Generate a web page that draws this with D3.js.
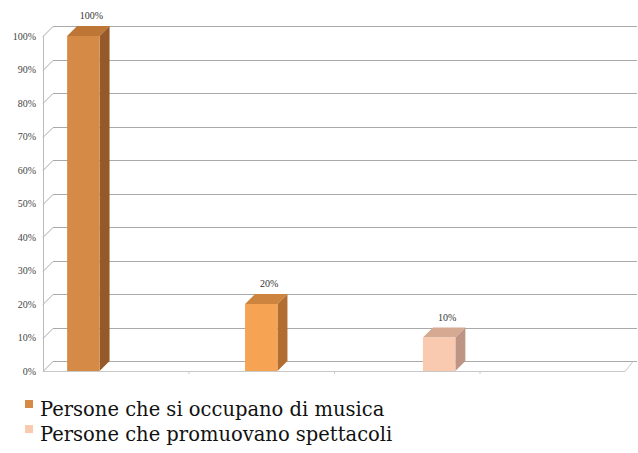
<!DOCTYPE html>
<html><head><meta charset="utf-8">
<script src="https://cdn.jsdelivr.net/npm/d3@7"></script>
<style>
body{margin:0;background:#fff}svg{display:block}
.lab{font-family:"Liberation Serif",serif;font-size:10px}
.leg{font-family:"DejaVu Serif",serif;font-size:19.5px}
</style>
</head><body>
<svg id="c" width="638" height="453"></svg>
<script>
const categories = ["A", "B", "C", "D"];
const seriesNames = ["Persone che si occupano di musica", "Serie 2", "Persone che promuovano spettacoli"];
const musicaValues = [100, null, null, null];
const serie2Values = [null, 20, null, null];
const spettacoliValues = [null, null, 10, null];
const legendNames = ["Persone che si occupano di musica", "Persone che promuovano spettacoli"];
const yTicks = [0, 10, 20, 30, 40, 50, 60, 70, 80, 90, 100];

const colors = [
  {front: "#D58B45", side: "#95592A", top: "#BE7637"},
  {front: "#F7A354", side: "#B26D30", top: "#CC843F"},
  {front: "#F9C9B0", side: "#BE9585", top: "#D6A993"}
];
const legendColors = ["#D58B45", "#F9C9B0"];
const seriesValues = [musicaValues, serie2Values, spettacoliValues];

const svg = d3.select("#c");
const dx = 10, dy = -10;
const x0 = 43, x1 = 625;
const y = d3.scaleLinear().domain([0, 100]).range([371, 36]);
const x = d3.scaleBand().domain(categories).range([x0, x1]).padding(0);
const xs = d3.scaleBand().domain(seriesNames).range([0, x.bandwidth()]).paddingInner(0).paddingOuter(0.745);

const grid = svg.append("g").attr("stroke", "#a9a9a9").attr("stroke-width", 1).attr("fill", "none");
yTicks.forEach(t => {
  const yy = Math.round(y(t)) + 0.5;
  grid.append("line").attr("x1", x0 + dx).attr("x2", x1 + dx + 2).attr("y1", yy + dy).attr("y2", yy + dy);
  grid.append("line").attr("x1", x0).attr("x2", x0 + dx).attr("y1", yy).attr("y2", yy + dy);
});
grid.append("line").attr("x1", x0 + 0.5).attr("x2", x0 + 0.5).attr("y1", y(100)).attr("y2", y(0) + 0.5).attr("stroke", "#bbb");
grid.append("line").attr("x1", x0).attr("x2", x1).attr("y1", Math.round(y(0)) + 0.5).attr("y2", Math.round(y(0)) + 0.5).attr("stroke", "#c8c8c8");
grid.append("line").attr("x1", x1).attr("x2", x1 + dx - 2).attr("y1", y(0) + 0.5).attr("y2", y(0) + dy + 0.5).attr("stroke", "#c8c8c8");
categories.slice(1).forEach(c => {
  grid.append("line").attr("x1", x(c) + 0.5).attr("x2", x(c) + 0.5).attr("y1", y(0)).attr("y2", y(0) + 3).attr("stroke", "#ccc");
});

const yAxis = d3.axisLeft(y).tickValues(yTicks).tickSize(0).tickPadding(7).tickFormat(d => d + "%");
const ga = svg.append("g").attr("transform", `translate(${x0},0)`).call(yAxis);
ga.select(".domain").remove();
ga.attr("font-family", null).attr("font-size", null);
ga.selectAll("text").attr("class", "lab").attr("fill", "#444");

const bars = [];
seriesValues.forEach((vals, si) => {
  vals.forEach((v, ci) => {
    if (v == null) return;
    bars.push({s: si, c: categories[ci], v});
  });
});
bars.forEach(b => {
  const bx = x(b.c) + xs(seriesNames[b.s]);
  const bw = xs.bandwidth();
  const yt = y(b.v), yb = y(0);
  const col = colors[b.s];
  const g = svg.append("g");
  g.append("path").attr("d", `M${bx + bw},${yt}L${bx + bw + dx},${yt + dy}L${bx + bw + dx},${yb + dy}L${bx + bw},${yb}Z`).attr("fill", col.side);
  g.append("path").attr("d", `M${bx},${yt}L${bx + dx},${yt + dy}L${bx + bw + dx},${yt + dy}L${bx + bw},${yt}Z`).attr("fill", col.top);
  g.append("rect").attr("x", bx).attr("y", yt).attr("width", bw).attr("height", yb - yt).attr("fill", col.front);
  g.append("text").attr("class", "lab").attr("x", bx + bw / 2 + 8).attr("y", yt + dy - 7).attr("text-anchor", "middle")
    .attr("fill", "#333").text(b.v + "%");
});

const lg = svg.append("g");
legendNames.forEach((n, i) => {
  const ly = 416 + i * 25;
  lg.append("rect").attr("x", 25).attr("y", ly - 16).attr("width", 8).attr("height", 8).attr("fill", legendColors[i]);
  lg.append("text").attr("class", "leg").attr("x", 40).attr("y", ly).attr("fill", "#111").text(n);
});
</script>
</body></html>
